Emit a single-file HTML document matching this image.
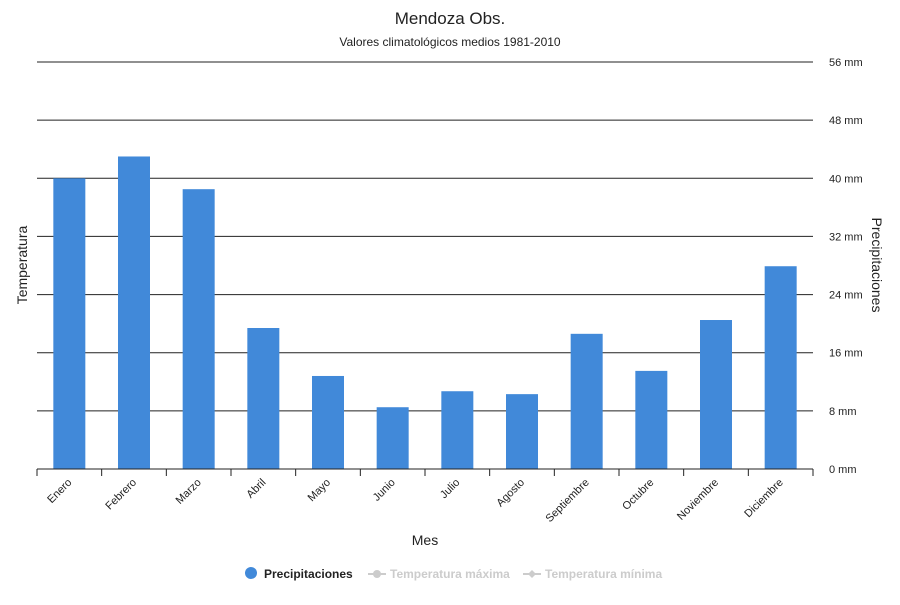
<!DOCTYPE html>
<html><head><meta charset="utf-8"><style>
body{margin:0;background:#fff;font-family:"Liberation Sans",sans-serif;}
svg text{font-family:"Liberation Sans",sans-serif;}
</style></head><body>
<svg id="chart" width="900" height="600">
<text x="450" y="24" text-anchor="middle" font-size="17" fill="#222">Mendoza Obs.</text>
<text x="450" y="46" text-anchor="middle" font-size="12" fill="#222">Valores climatológicos medios 1981-2010</text>
<g id="grid"></g><g id="bars"></g><g id="xaxis"></g>
<text transform="translate(27,265) rotate(-90)" text-anchor="middle" font-size="14" fill="#222">Temperatura</text>
<text transform="translate(872,265) rotate(90)" text-anchor="middle" font-size="14" fill="#222">Precipitaciones</text>
<text x="425" y="545" text-anchor="middle" font-size="14" fill="#222">Mes</text>
<g>
<g><circle cx="251" cy="573" r="6" fill="#4189d9"/><text x="264" y="578" font-size="12" font-weight="bold" fill="#222">Precipitaciones</text></g>
<g><line x1="368" y1="574" x2="386" y2="574" stroke="#ccc" stroke-width="2"/><circle cx="377" cy="574" r="4" fill="#ccc"/><text x="390" y="578" font-size="12" font-weight="bold" fill="#ccc">Temperatura máxima</text></g>
<g><line x1="523" y1="574" x2="541" y2="574" stroke="#ccc" stroke-width="2"/><path d="M532 570 L536 574 L532 578 L528 574Z" fill="#ccc"/><text x="545" y="578" font-size="12" font-weight="bold" fill="#ccc">Temperatura mínima</text></g>
</g>
</svg>
<script>
const months=["Enero","Febrero","Marzo","Abril","Mayo","Junio","Julio","Agosto","Septiembre","Octubre","Noviembre","Diciembre"];
const precip=[40,43,38.5,19.4,12.8,8.5,10.7,10.3,18.6,13.5,20.5,27.9];
const ticks=[0,8,16,24,32,40,48,56];
const NS="http://www.w3.org/2000/svg";
const x0=37,x1=813,y0=469,y1=62,maxV=56;
const y=v=>y0-(v/maxV)*(y0-y1);
const bw=(x1-x0)/months.length;
const xc=i=>x0+bw*(i+0.5);
function mk(t,a,p){const e=document.createElementNS(NS,t);for(const k in a)e.setAttribute(k,a[k]);p.appendChild(e);return e;}
const g=document.getElementById('grid'),b=document.getElementById('bars'),xa=document.getElementById('xaxis');
ticks.forEach(t=>{
 if(t>0){const l=mk('line',{x1:x0,x2:x1,y1:y(t),y2:y(t),stroke:'#222','stroke-width':1},g);
 
 }
 const tx=mk('text',{x:829,y:y(t)+4,'font-size':11,fill:'#222'},g);tx.textContent=t+' mm';
 
 
});
precip.forEach((v,i)=>{
 const r=mk('rect',{x:xc(i)-16,y:y(v),width:32,height:y0-y(v),fill:'#4189d9'},b);
 
 
});
mk('line',{x1:x0,x2:x1,y1:y0,y2:y0,stroke:'#222'},xa);
for(let i=0;i<=months.length;i++)mk('line',{x1:x0+bw*i,x2:x0+bw*i,y1:y0,y2:y0+7,stroke:'#222'},xa);
months.forEach((m,i)=>{
 const t=mk('text',{transform:`translate(${xc(i)+3},${y0+14}) rotate(-45)`,'text-anchor':'end','font-size':11,fill:'#222'},xa);t.textContent=m;
 
 
});
</script>
</body></html>
